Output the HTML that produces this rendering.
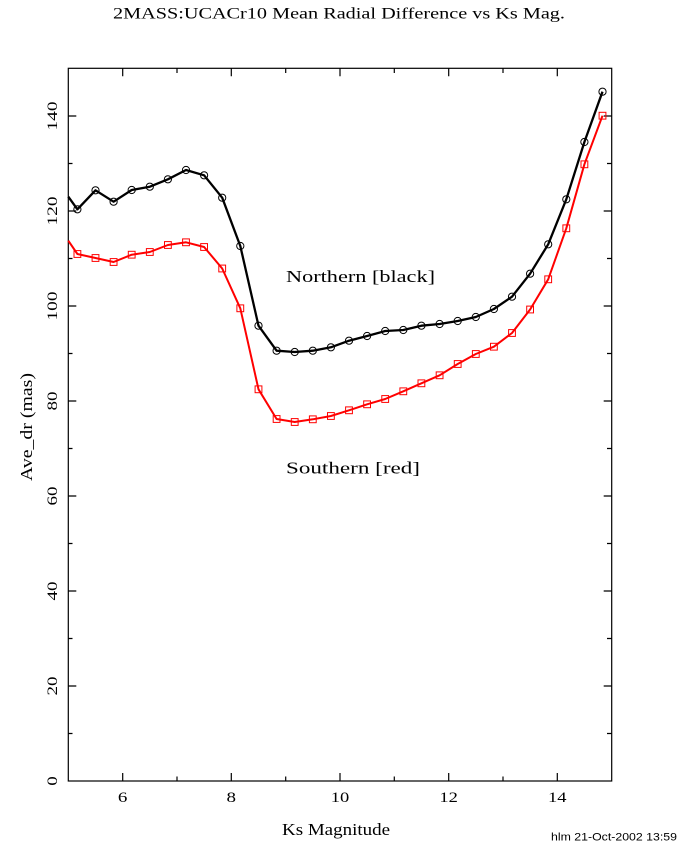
<!DOCTYPE html>
<html>
<head>
<meta charset="utf-8">
<style>
html,body{margin:0;padding:0;background:#fff;}
svg{display:block;}
.serif{font-family:"Liberation Serif","DejaVu Serif",serif;fill:#000;}
.sans{font-family:"Liberation Sans","DejaVu Sans",sans-serif;fill:#000;}
</style>
</head>
<body>
<svg width="680" height="850" viewBox="0 0 680 850" xmlns="http://www.w3.org/2000/svg">
<rect width="680" height="850" fill="#fff"/>
<text class="serif" x="113" y="18.5" font-size="15.5" textLength="452" lengthAdjust="spacingAndGlyphs">2MASS:UCACr10 Mean Radial Difference vs Ks Mag.</text>
<rect x="68.3" y="68.3" width="543.4" height="712.7" fill="none" stroke="#000" stroke-width="1.2"/>
<path stroke="#000" stroke-width="1.2" fill="none" d="
M122.7 781V773M231.3 781V773M340 781V773M448.7 781V773M557.3 781V773
M122.7 68.3V76.3M231.3 68.3V76.3M340 68.3V76.3M448.7 68.3V76.3M557.3 68.3V76.3
M177 781V776.5M285.7 781V776.5M394.3 781V776.5M503 781V776.5
M177 68.3V73M285.7 68.3V73M394.3 68.3V73M503 68.3V73
M68.3 686H76.3M68.3 591H76.3M68.3 496H76.3M68.3 401H76.3M68.3 306H76.3M68.3 211H76.3M68.3 116H76.3
M611.7 686H603.7M611.7 591H603.7M611.7 496H603.7M611.7 401H603.7M611.7 306H603.7M611.7 211H603.7M611.7 116H603.7
M68.3 733.5H72.5M68.3 638.5H72.5M68.3 543.5H72.5M68.3 448.5H72.5M68.3 353.5H72.5M68.3 258.5H72.5M68.3 163.5H72.5
M611.7 733.5H607M611.7 638.5H607M611.7 543.5H607M611.7 448.5H607M611.7 353.5H607M611.7 258.5H607M611.7 163.5H607"/>
<g class="serif" font-size="15" text-anchor="middle">
<text x="122.7" y="802" textLength="9.5" lengthAdjust="spacingAndGlyphs">6</text>
<text x="231.3" y="802" textLength="9.5" lengthAdjust="spacingAndGlyphs">8</text>
<text x="340" y="802" textLength="18.5" lengthAdjust="spacingAndGlyphs">10</text>
<text x="448.7" y="802" textLength="18.5" lengthAdjust="spacingAndGlyphs">12</text>
<text x="557.3" y="802" textLength="18.5" lengthAdjust="spacingAndGlyphs">14</text>
<text transform="translate(57,781) rotate(-90)" textLength="9.5" lengthAdjust="spacingAndGlyphs">0</text>
<text transform="translate(57,686) rotate(-90)" textLength="19" lengthAdjust="spacingAndGlyphs">20</text>
<text transform="translate(57,591) rotate(-90)" textLength="19" lengthAdjust="spacingAndGlyphs">40</text>
<text transform="translate(57,496) rotate(-90)" textLength="19" lengthAdjust="spacingAndGlyphs">60</text>
<text transform="translate(57,401) rotate(-90)" textLength="19" lengthAdjust="spacingAndGlyphs">80</text>
<text transform="translate(57,306) rotate(-90)" textLength="29" lengthAdjust="spacingAndGlyphs">100</text>
<text transform="translate(57,211) rotate(-90)" textLength="29" lengthAdjust="spacingAndGlyphs">120</text>
<text transform="translate(57,116) rotate(-90)" textLength="29" lengthAdjust="spacingAndGlyphs">140</text>
</g>
<text class="serif" x="282" y="835" font-size="17" textLength="108" lengthAdjust="spacingAndGlyphs">Ks Magnitude</text>
<text class="serif" font-size="17" text-anchor="middle" textLength="108" lengthAdjust="spacingAndGlyphs" transform="translate(32,427) rotate(-90)">Ave_dr (mas)</text>
<text class="serif" x="286" y="282" font-size="17" textLength="149" lengthAdjust="spacingAndGlyphs">Northern [black]</text>
<text class="serif" x="286" y="473.3" font-size="17" textLength="134" lengthAdjust="spacingAndGlyphs">Southern [red]</text>
<polyline fill="none" stroke="#000" stroke-width="2.3" stroke-linejoin="round" points="68.3,196.7 77.4,209.3 95.5,190.3 113.6,201.7 131.7,190 149.8,186.7 167.9,179.3 186,170 204.1,175.3 222.2,197.7 240.3,246 258.5,325.7 276.6,350.7 294.7,352 312.8,350.7 330.9,347.3 349,340.7 367.1,336 385.2,331 403.3,330 421.4,325.7 439.6,324 457.7,321 475.8,317 493.9,309 512,296.7 530.1,273.7 548.2,244.3 566.3,199.3 584.4,142 602.5,91.7"/>
<g fill="none" stroke="#000" stroke-width="1">
<circle cx="77.4" cy="209.3" r="3.6"/><circle cx="95.5" cy="190.3" r="3.6"/><circle cx="113.6" cy="201.7" r="3.6"/><circle cx="131.7" cy="190" r="3.6"/><circle cx="149.8" cy="186.7" r="3.6"/><circle cx="167.9" cy="179.3" r="3.6"/><circle cx="186" cy="170" r="3.6"/><circle cx="204.1" cy="175.3" r="3.6"/><circle cx="222.2" cy="197.7" r="3.6"/><circle cx="240.3" cy="246" r="3.6"/><circle cx="258.5" cy="325.7" r="3.6"/><circle cx="276.6" cy="350.7" r="3.6"/><circle cx="294.7" cy="352" r="3.6"/><circle cx="312.8" cy="350.7" r="3.6"/><circle cx="330.9" cy="347.3" r="3.6"/><circle cx="349" cy="340.7" r="3.6"/><circle cx="367.1" cy="336" r="3.6"/><circle cx="385.2" cy="331" r="3.6"/><circle cx="403.3" cy="330" r="3.6"/><circle cx="421.4" cy="325.7" r="3.6"/><circle cx="439.6" cy="324" r="3.6"/><circle cx="457.7" cy="321" r="3.6"/><circle cx="475.8" cy="317" r="3.6"/><circle cx="493.9" cy="309" r="3.6"/><circle cx="512" cy="296.7" r="3.6"/><circle cx="530.1" cy="273.7" r="3.6"/><circle cx="548.2" cy="244.3" r="3.6"/><circle cx="566.3" cy="199.3" r="3.6"/><circle cx="584.4" cy="142" r="3.6"/><circle cx="602.5" cy="91.7" r="3.6"/>
</g>
<polyline fill="none" stroke="#f00" stroke-width="2" stroke-linejoin="round" points="68.3,240.7 77.4,254 95.5,258 113.6,262 131.7,254.7 149.8,252 167.9,245 186,242.3 204.1,247 222.2,268.5 240.3,308.3 258.5,389.3 276.6,419 294.7,422 312.8,419.3 330.9,416 349,410.3 367.1,404.3 385.2,399 403.3,391.3 421.4,383.3 439.6,375.3 457.7,364 475.8,354 493.9,346.7 512,333 530.1,309.5 548.2,279.3 566.3,228.3 584.4,164.3 602.5,115.7"/>
<g fill="none" stroke="#f00" stroke-width="1">
<rect x="74" y="250.6" width="6.8" height="6.8"/><rect x="92.1" y="254.6" width="6.8" height="6.8"/><rect x="110.2" y="258.6" width="6.8" height="6.8"/><rect x="128.3" y="251.3" width="6.8" height="6.8"/><rect x="146.4" y="248.6" width="6.8" height="6.8"/><rect x="164.5" y="241.6" width="6.8" height="6.8"/><rect x="182.6" y="238.9" width="6.8" height="6.8"/><rect x="200.7" y="243.6" width="6.8" height="6.8"/><rect x="218.8" y="265.1" width="6.8" height="6.8"/><rect x="236.9" y="304.9" width="6.8" height="6.8"/><rect x="255.1" y="385.9" width="6.8" height="6.8"/><rect x="273.2" y="415.6" width="6.8" height="6.8"/><rect x="291.3" y="418.6" width="6.8" height="6.8"/><rect x="309.4" y="415.9" width="6.8" height="6.8"/><rect x="327.5" y="412.6" width="6.8" height="6.8"/><rect x="345.6" y="406.9" width="6.8" height="6.8"/><rect x="363.7" y="400.9" width="6.8" height="6.8"/><rect x="381.8" y="395.6" width="6.8" height="6.8"/><rect x="399.9" y="387.9" width="6.8" height="6.8"/><rect x="418" y="379.9" width="6.8" height="6.8"/><rect x="436.2" y="371.9" width="6.8" height="6.8"/><rect x="454.3" y="360.6" width="6.8" height="6.8"/><rect x="472.4" y="350.6" width="6.8" height="6.8"/><rect x="490.5" y="343.3" width="6.8" height="6.8"/><rect x="508.6" y="329.6" width="6.8" height="6.8"/><rect x="526.7" y="306.1" width="6.8" height="6.8"/><rect x="544.8" y="275.9" width="6.8" height="6.8"/><rect x="562.9" y="224.9" width="6.8" height="6.8"/><rect x="581" y="160.9" width="6.8" height="6.8"/><rect x="599.1" y="112.3" width="6.8" height="6.8"/>
</g>
<text class="sans" x="551" y="840.5" font-size="11" textLength="126" lengthAdjust="spacingAndGlyphs">hlm 21-Oct-2002 13:59</text>
</svg>
</body>
</html>
